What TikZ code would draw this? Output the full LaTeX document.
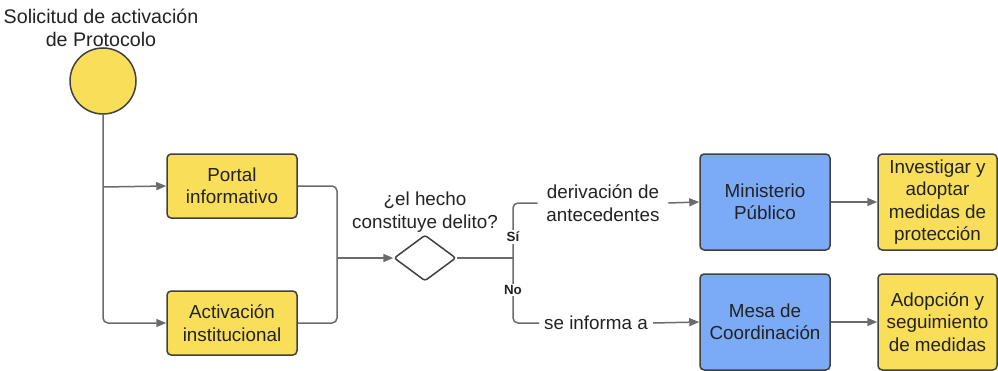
\documentclass[tikz,border=0pt]{standalone}
\usepackage{fontspec}
\setmainfont{Liberation Sans}
\usetikzlibrary{arrows.meta,shapes.geometric}
\definecolor{boxyellow}{HTML}{F9DE5A}
\definecolor{boxblue}{HTML}{7BAAF7}
\definecolor{edgegray}{HTML}{404040}
\definecolor{linegray}{HTML}{6B6B6B}
\definecolor{txt}{HTML}{222222}
\tikzset{
  x=0.6pt, y=-0.6pt,
  every node/.style={font=\fontsize{11.3}{13.4}\selectfont, text=txt, align=center},
  box/.style={draw=edgegray, line width=0.9pt, rounded corners=2.5pt, inner sep=0pt},
  ybox/.style={box, fill=boxyellow},
  bbox/.style={box, fill=boxblue},
  small/.style={minimum width=78pt, minimum height=38.4pt},
  tall/.style={minimum width=78pt, minimum height=57.6pt},
  tallr/.style={minimum width=71.4pt, minimum height=57.6pt},
  conn/.style={draw=linegray, line width=0.9pt, rounded corners=3pt},
  arr/.style={conn, -{Triangle[length=6pt,width=4.8pt]}},
  lab/.style={fill=white, inner sep=1pt, font=\bfseries\fontsize{8}{9}\selectfont},
  plain/.style={inner sep=2pt}
}
\begin{document}
\begin{tikzpicture}
\useasboundingbox (0,0) rectangle (998,371);
% title and start
\node[plain, font=\fontsize{11.8}{13.8}\selectfont] (title) at (101,28) {Solicitud de activación\\de Protocolo};
\node[circle, draw=edgegray, line width=0.9pt, fill=boxyellow, minimum size=39.6pt, inner sep=0pt] (start) at (103,81) {};
% boxes
\node[ybox, small] (portal) at (232,186) {Portal\\informativo};
\node[ybox, small] (act) at (232,323) {Activación\\institucional};
\node[diamond, minimum width=37.2pt, minimum height=27.6pt, inner sep=0pt, draw=edgegray, line width=0.9pt, fill=white, rounded corners=1.5pt] (dia) at (425,258) {};
\node[plain] (q) at (425,212) {¿el hecho\\constituye delito?};
\node[bbox, tall] (mp) at (765,202) {Ministerio\\Público};
\node[bbox, tall] (mesa) at (765,322) {Mesa de\\Coordinación};
\node[ybox, tallr] (inv) at (937.5,202) {Investigar y\\adoptar\\medidas de\\protección};
\node[ybox, tallr] (adop) at (937.5,322) {Adopción y\\seguimiento\\de medidas};
% edge texts
\node[inner sep=0pt, minimum width=78pt] (der) at (603,203) {derivación de\\antecedentes};
\node[inner sep=0pt, minimum width=68pt] (inf) at (596,323) {se informa a};
% coordinates
\coordinate (j1) at (103,187);
\coordinate (m) at (337,258);
\coordinate (s) at (513,258);
% connectors
\draw[arr] (start.south) |- (act.west);
\draw[arr] (j1) -- (portal.west);
\draw[conn] (portal.east) -| (m);
\draw[conn] (act.east) -| (m);
\draw[arr] (m) -- (dia.west);
\draw[conn] (dia.east) -- (s);
\draw[conn] (s) |- (der.west);
\draw[conn] (s) |- (inf.west);
\draw[arr] (der.east) -- (mp.west);
\draw[arr] (inf.east) -- (mesa.west);
\draw[arr] (mp.east) -- (inv.west);
\draw[arr] (mesa.east) -- (adop.west);
\node[lab] (si) at (513,237) {Sí};
\node[lab] (no) at (513,290) {No};
\end{tikzpicture}
\end{document}
